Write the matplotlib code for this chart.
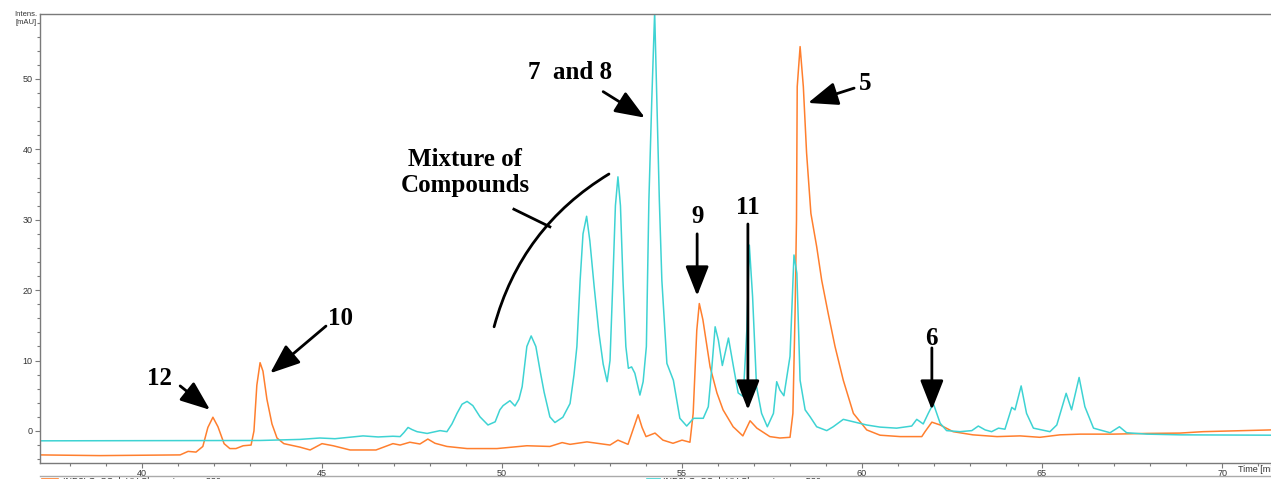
import matplotlib
matplotlib.use("Agg")
import matplotlib.pyplot as plt
from matplotlib.ticker import MultipleLocator

# UV chromatogram, 330 nm (orange)
t_330 = [37.17, 38.83, 41.06, 41.28, 41.5, 41.69, 41.83, 41.97, 42.11, 42.28,
         42.44, 42.61, 42.81, 43.03, 43.11, 43.19, 43.28, 43.36, 43.47, 43.61,
         43.75, 43.94, 44.39, 44.67, 45.0, 45.31, 45.78, 46.5, 46.97, 47.17,
         47.44, 47.72, 47.94, 48.14, 48.47, 49.03, 49.86, 50.69, 51.33, 51.67,
         51.89, 52.36, 53.0, 53.22, 53.5, 53.64, 53.78, 53.89, 54.0, 54.25,
         54.47, 54.75, 55.0, 55.22, 55.31, 55.41, 55.48, 55.58, 55.78, 55.97,
         56.14, 56.42, 56.69, 56.89, 57.08, 57.44, 57.72, 58.0, 58.08, 58.14,
         58.18, 58.2, 58.28, 58.37, 58.46, 58.58, 58.74, 58.88, 59.06, 59.25,
         59.48, 59.76, 60.13, 60.5, 61.06, 61.66, 61.75, 61.94, 62.17, 62.53,
         63.08, 63.75, 64.39, 64.94, 65.5, 66.06, 66.97, 67.92, 68.83, 69.47,
         70.22, 71.36]
i_330 = [-3.4, -3.5, -3.4, -2.9, -3.0, -2.2, 0.5, 1.95, 0.6, -1.8,
         -2.5, -2.5, -2.1, -2.0, 0.0, 6.5, 9.7, 8.5, 4.5, 1.0,
         -1.0, -1.8, -2.3, -2.7, -1.8, -2.1, -2.7, -2.7, -1.8, -2.0,
         -1.6, -1.85, -1.15, -1.75, -2.2, -2.5, -2.5, -2.1, -2.2, -1.65,
         -1.9, -1.55, -2.0, -1.3, -1.9, 0.2, 2.3, 0.5, -0.8, -0.3,
         -1.3, -1.75, -1.3, -1.6, 2.5, 14.3, 18.1, 15.8, 9.1, 5.4,
         3.0, 0.6, -0.7, 1.45, 0.4, -0.8, -1.0, -0.9, 2.5, 16.8,
         30.0, 48.9, 54.6, 48.9, 39.5, 30.9, 26.2, 21.4, 16.7, 12.0,
         7.2, 2.5, 0.15, -0.6, -0.8, -0.8, -0.1, 1.25, 0.85, -0.1,
         -0.55, -0.8, -0.7, -0.9, -0.55, -0.45, -0.45, -0.35, -0.3, -0.1,
         0.0, 0.15]

# UV chromatogram, 530 nm (cyan)
t_530 = [37.17, 43.28, 44.39, 44.94, 45.36, 46.14, 46.56, 46.97, 47.17, 47.28,
         47.39, 47.5, 47.64, 47.92, 48.28, 48.47, 48.61, 48.75, 48.89, 49.03,
         49.19, 49.39, 49.61, 49.81, 49.94, 50.03, 50.22, 50.36, 50.47, 50.56,
         50.69, 50.81, 50.94, 51.06, 51.17, 51.33, 51.47, 51.69, 51.89, 52.0,
         52.08, 52.17, 52.25, 52.35, 52.44, 52.56, 52.69, 52.81, 52.92, 53.0,
         53.08, 53.15, 53.22, 53.29, 53.36, 53.44, 53.51, 53.6, 53.69, 53.83,
         53.92, 54.01, 54.08, 54.16, 54.24, 54.3, 54.37, 54.44, 54.58, 54.76,
         54.94, 55.13, 55.32, 55.59, 55.73, 55.83, 55.92, 56.01, 56.12, 56.29,
         56.43, 56.56, 56.7, 56.8, 56.87, 56.96, 57.07, 57.21, 57.37, 57.54,
         57.63, 57.72, 57.83, 58.0, 58.11, 58.19, 58.28, 58.42, 58.56, 58.74,
         59.02, 59.2, 59.48, 59.76, 60.13, 60.5, 60.96, 61.38, 61.52, 61.7,
         61.84, 61.98, 62.17, 62.35, 62.72, 63.05, 63.23, 63.42, 63.6, 63.79,
         63.97, 64.16, 64.25, 64.42, 64.57, 64.76, 65.22, 65.41, 65.67, 65.82,
         66.03, 66.19, 66.43, 66.89, 67.15, 67.35, 67.91, 68.83, 71.36]
i_530 = [-1.4, -1.35, -1.2, -1.0, -1.1, -0.7, -0.85, -0.75, -0.8, -0.2,
         0.5, 0.2, -0.1, -0.35, 0.05, -0.1, 1.0, 2.5, 3.8, 4.2,
         3.6, 2.0, 0.85, 1.3, 3.0, 3.6, 4.3, 3.55, 4.5, 6.3,
         12.0, 13.5, 12.0, 8.5, 5.5, 2.0, 1.2, 1.95, 3.9, 8.0,
         12.0, 21.4, 28.0, 30.5, 27.0, 20.5, 14.0, 9.5, 7.0, 10.0,
         21.4, 32.0, 36.1, 32.0, 21.4, 12.0, 8.9, 9.1, 8.2, 5.1,
         7.0, 12.0, 32.8, 47.0, 59.5, 47.0, 32.8, 21.4, 9.6, 7.2,
         1.8, 0.7, 1.8, 1.8, 3.45, 9.1, 14.8, 12.9, 9.3, 13.2,
         9.1, 5.4, 4.9, 14.3, 26.4, 19.1, 6.3, 2.5, 0.6, 2.5,
         7.0, 5.8, 5.0, 10.6, 25.0, 22.4, 7.2, 3.0, 2.0, 0.6,
         0.05, 0.6, 1.65, 1.3, 0.85, 0.55, 0.4, 0.7, 1.65, 1.0,
         2.5, 3.9, 1.1, 0.05, -0.1, 0.05, 0.7, 0.15, -0.1, 0.4,
         0.25, 3.35, 3.0, 6.4, 2.5, 0.4, -0.1, 0.85, 5.35, 3.0,
         7.6, 3.45, 0.4, -0.25, 0.6, -0.25, -0.45, -0.55, -0.6]

# peak labels: text, text position, arrow tail, arrow head
labels = ["12", "10", "7  and 8", "5", "9", "11", "6"]
label_xy = [(40.5, 7.5), (45.5, 16.0), (51.9, 50.9), (60.1, 49.3),
            (55.42, 30.4), (56.83, 31.7), (61.94, 13.2)]
arrow_tail = [(41.06, 6.4), (45.11, 14.9), (52.81, 48.2), (59.78, 48.7),
              (55.42, 28.0), (56.83, 29.4), (61.94, 11.8)]
arrow_head = [(41.89, 3.0), (43.56, 8.2), (53.97, 44.5), (58.5, 46.6),
              (55.42, 19.2), (56.83, 3.0), (61.94, 3.0)]

orange = "#ff7f2e"
cyan = "#3ed3d3"
axis_grey = "#7a7a7a"

fig = plt.figure(figsize=(12.71, 4.79), dpi=100)
ax = fig.add_axes([40 / 1271, 16 / 479, 1231 / 1271, 449 / 479])

ax.plot(t_330, i_330, color=orange, lw=1.1)
ax.plot(t_530, i_530, color=cyan, lw=1.1)

ax.set_xlim(37.167, 71.36)
ax.set_ylim(-4.55, 59.23)
ax.xaxis.set_major_locator(MultipleLocator(5))
ax.xaxis.set_minor_locator(MultipleLocator(1))
ax.yaxis.set_major_locator(MultipleLocator(10))
ax.yaxis.set_minor_locator(MultipleLocator(2))
ax.tick_params(which="both", colors=axis_grey, labelcolor="#333333",
               labelsize=6.5, width=0.8)
ax.tick_params(which="major", length=3.5, pad=2)
ax.tick_params(which="minor", length=2.5)
ax.tick_params(axis="x", which="major", pad=0.5)
for lab in ax.get_xticklabels() + ax.get_yticklabels():
    lab.set_family("Liberation Sans")
ax.spines["right"].set_visible(False)
for s in ["left", "top", "bottom"]:
    ax.spines[s].set_color(axis_grey)
    ax.spines[s].set_linewidth(1.0)

fig.text(37 / 1271, 1 - 15 / 479, "Intens.", ha="right", va="center",
         fontsize=5.5, family="Liberation Sans", color="#333333")
fig.text(37 / 1271, 1 - 23 / 479, "[mAU]", ha="right", va="center",
         fontsize=5.5, family="Liberation Sans", color="#333333")
fig.text(1238 / 1271, 1 - 469 / 479, "Time [min]", ha="left", va="center",
         fontsize=6.5, family="Liberation Sans", color="#333333")

# legend strip at the very bottom, mostly cut off
fig.add_artist(plt.Line2D([40 / 1271, 1], [1 - 475.5 / 479] * 2,
                          color="#aaaaaa", lw=1.0))
fig.add_artist(plt.Line2D([42 / 1271, 58 / 1271], [1 - 478.5 / 479] * 2,
                          color=orange, lw=1.2))
fig.add_artist(plt.Line2D([647 / 1271, 660 / 1271], [1 - 478.5 / 479] * 2,
                          color=cyan, lw=1.2))
fig.text(63 / 1271, 1 - 482 / 479, "IND3LG_SC.d: UV Chromatogram, 330 nm",
         ha="left", va="center", fontsize=6.5, family="Liberation Sans",
         color="#333333")
fig.text(663 / 1271, 1 - 482 / 479, "IND3LG_SC.d: UV Chromatogram, 530 nm",
         ha="left", va="center", fontsize=6.5, family="Liberation Sans",
         color="#333333")

bold = dict(fontsize=18, fontweight="bold", family="Liberation Serif",
            ha="center", va="center", color="black")
arrow = dict(arrowstyle="-|>,head_length=1.4,head_width=0.55",
             color="black", lw=2.0, shrinkA=0, shrinkB=0, mutation_scale=13)

for txt, pos, tail, head in zip(labels, label_xy, arrow_tail, arrow_head):
    ax.text(pos[0], pos[1], txt, **bold)
    ax.annotate("", xy=head, xytext=tail, arrowprops=arrow)

ax.text(48.97, 38.6, "Mixture of", **bold)
ax.text(48.97, 34.8, "Compounds", **bold)
ax.annotate("", xy=(52.97, 36.5), xytext=(49.78, 14.8),
            arrowprops=dict(arrowstyle="-", color="black", lw=2.0,
                            shrinkA=0, shrinkB=0,
                            connectionstyle="arc3,rad=-0.2"))
ax.plot([50.33, 51.33], [31.5, 29.0], color="black", lw=2.0)

fig.savefig("out.png", dpi=100)
